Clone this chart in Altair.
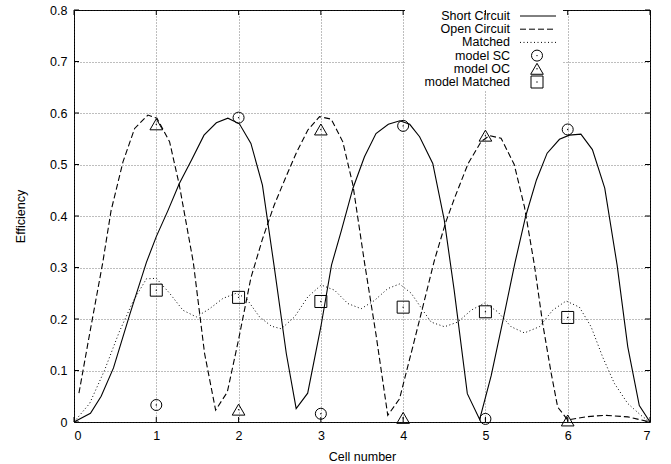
import altair as alt
import pandas as pd

# ---------------- data ----------------
SC = [(0, 0), (0.20, 0.017), (0.33, 0.050), (0.48, 0.105), (0.68, 0.21), (0.88, 0.31),
      (1.0, 0.36), (1.14, 0.41), (1.28, 0.463), (1.43, 0.509), (1.58, 0.557), (1.73, 0.581),
      (1.87, 0.590), (2.01, 0.579), (2.15, 0.541), (2.29, 0.460), (2.43, 0.305), (2.58, 0.133),
      (2.70, 0.026), (2.84, 0.056), (3.0, 0.185), (3.13, 0.305), (3.25, 0.372), (3.39, 0.454),
      (3.53, 0.515), (3.67, 0.560), (3.82, 0.578), (3.96, 0.585), (4.08, 0.578), (4.2, 0.554),
      (4.36, 0.502), (4.50, 0.392), (4.62, 0.256), (4.78, 0.055), (4.93, 0.005), (5.07, 0.09),
      (5.23, 0.21), (5.36, 0.31), (5.49, 0.40), (5.62, 0.47), (5.75, 0.522), (5.90, 0.549),
      (6.02, 0.557), (6.16, 0.559), (6.30, 0.529), (6.45, 0.454), (6.60, 0.305), (6.73, 0.146),
      (6.87, 0.032), (7.0, 0.0)]

OC = [(0.06, 0.056), (0.20, 0.18), (0.35, 0.31), (0.45, 0.41), (0.595, 0.505), (0.737, 0.570),
      (0.899, 0.596), (1.008, 0.590), (1.162, 0.544), (1.28, 0.46), (1.45, 0.31), (1.587, 0.133),
      (1.721, 0.023), (1.863, 0.058), (2.0, 0.16), (2.15, 0.28), (2.29, 0.355), (2.43, 0.42),
      (2.56, 0.47), (2.70, 0.522), (2.842, 0.567), (2.984, 0.593), (3.126, 0.588), (3.267, 0.544),
      (3.39, 0.46), (3.53, 0.31), (3.67, 0.17), (3.813, 0.013), (3.956, 0.045), (4.117, 0.146),
      (4.26, 0.237), (4.38, 0.314), (4.52, 0.389), (4.63, 0.437), (4.79, 0.502), (4.95, 0.545),
      (5.05, 0.556), (5.19, 0.551), (5.35, 0.50), (5.474, 0.418), (5.595, 0.305), (5.696, 0.191),
      (5.80, 0.094), (5.878, 0.029), (6.0, 0.004), (6.22, 0.01), (6.445, 0.013), (6.73, 0.01),
      (7.0, 0.0)]

MT = [(0.0, 0.0), (0.19, 0.036), (0.37, 0.10), (0.55, 0.175), (0.72, 0.235), (0.88, 0.278),
      (1.0, 0.279), (1.162, 0.25), (1.324, 0.217), (1.486, 0.204), (1.648, 0.220), (1.81, 0.24),
      (1.972, 0.250), (2.094, 0.24), (2.255, 0.204), (2.40, 0.186), (2.519, 0.181), (2.68, 0.204),
      (2.842, 0.243), (3.004, 0.266), (3.166, 0.256), (3.328, 0.230), (3.49, 0.220), (3.652, 0.236),
      (3.813, 0.259), (3.956, 0.268), (4.098, 0.250), (4.239, 0.217), (4.34, 0.194), (4.502, 0.185),
      (4.664, 0.194), (4.826, 0.217), (4.988, 0.231), (5.15, 0.214), (5.312, 0.185), (5.474, 0.173),
      (5.656, 0.185), (5.817, 0.217), (5.98, 0.235), (6.142, 0.223), (6.284, 0.185), (6.425, 0.126),
      (6.567, 0.075), (6.729, 0.036), (6.89, 0.013), (7.0, 0.0)]

CELLS = [1, 2, 3, 4, 5, 6]
MODEL_SC = [0.033, 0.591, 0.016, 0.575, 0.006, 0.568]
MODEL_OC = [0.578, 0.024, 0.568, 0.008, 0.556, 0.003]
MODEL_MT = [0.256, 0.242, 0.234, 0.223, 0.214, 0.203]

X_TICKS = [0, 1, 2, 3, 4, 5, 6, 7]
Y_TICKS = [0, 0.1, 0.2, 0.3, 0.4, 0.5, 0.6, 0.7, 0.8]

LEGEND_LABELS = ["Short Circuit", "Open Circuit", "Matched", "model SC", "model OC", "model Matched"]

# ---------------- layout / style ----------------
W, H = 576, 412
FONT = "Liberation Sans"
FS = 12.5
DASH = [6, 3]
DOT = [1, 2.5]

xs = alt.Scale(domain=[0, 7], nice=False)
ys = alt.Scale(domain=[0, 0.8], nice=False)

xax = alt.Axis(values=X_TICKS, format="d", title="Cell number", grid=True, ticks=False,
               domain=False, labelPadding=7, titlePadding=9)
yax = alt.Axis(values=Y_TICKS, format=".1~f", title="Efficiency", grid=True, ticks=False,
               domain=False, labelPadding=7, titlePadding=22)


def df_of(pairs):
    return pd.DataFrame(pairs, columns=["x", "y"])


dummy = pd.DataFrame({"a": [0]})

# white legend background (covers the grid)
legend_box = alt.Chart(dummy).mark_rect(fill="white", stroke=None).encode(
    x=alt.value(331), x2=alt.value(489), y=alt.value(0), y2=alt.value(80))

line_sc = alt.Chart(df_of(SC)).mark_line(color="black", strokeWidth=1.1).encode(
    x=alt.X("x:Q", scale=xs, axis=xax), y=alt.Y("y:Q", scale=ys, axis=yax))
line_oc = alt.Chart(df_of(OC)).mark_line(color="black", strokeWidth=1.1, strokeDash=DASH).encode(
    x=alt.X("x:Q", scale=xs), y=alt.Y("y:Q", scale=ys))
line_mt = alt.Chart(df_of(MT)).mark_line(color="black", strokeWidth=1, strokeDash=DOT).encode(
    x=alt.X("x:Q", scale=xs), y=alt.Y("y:Q", scale=ys))

pts = pd.DataFrame({"x": CELLS, "sc": MODEL_SC, "oc": MODEL_OC, "mt": MODEL_MT})


def marker(col, shape, size):
    base = alt.Chart(pts)
    sym = base.mark_point(shape=shape, size=size, filled=False, color="black",
                          strokeWidth=1, opacity=1).encode(
        x=alt.X("x:Q", scale=xs), y=alt.Y(f"{col}:Q", scale=ys))
    dot = base.mark_point(shape="circle", size=2, filled=True, color="black", opacity=1).encode(
        x=alt.X("x:Q", scale=xs), y=alt.Y(f"{col}:Q", scale=ys))
    return sym + dot


m_sc = marker("sc", "circle", 121)
m_oc = marker("oc", "triangle-up", 160)
m_mt = marker("mt", "square", 144)

# inward tick marks on all four sides
xt = pd.DataFrame({"v": X_TICKS})
yt = pd.DataFrame({"v": Y_TICKS})
tick_style = dict(color="black", strokeWidth=1)
ticks = alt.layer(
    alt.Chart(xt).mark_rule(**tick_style).encode(x=alt.X("v:Q", scale=xs), y=alt.value(H), y2=alt.value(H - 5)),
    alt.Chart(xt).mark_rule(**tick_style).encode(x=alt.X("v:Q", scale=xs), y=alt.value(0), y2=alt.value(5)),
    alt.Chart(yt).mark_rule(**tick_style).encode(y=alt.Y("v:Q", scale=ys), x=alt.value(0), x2=alt.value(5)),
    alt.Chart(yt).mark_rule(**tick_style).encode(y=alt.Y("v:Q", scale=ys), x=alt.value(W - 5), x2=alt.value(W)),
)

# manual gnuplot-style key: label right-aligned, sample to the right
ROW0, DY = 6, 13.2
TX, S0, S1, SX = 436, 446, 482, 463
leg_layers = []
dashes = [None, DASH, DOT]
shapes = [("circle", 121), ("triangle-up", 160), ("square", 144)]
for i, lab in enumerate(LEGEND_LABELS):
    yy = ROW0 + i * DY
    leg_layers.append(alt.Chart(pd.DataFrame({"t": [lab]})).mark_text(
        align="right", baseline="middle", font=FONT, fontSize=FS, color="black").encode(
        text="t:N", x=alt.value(TX), y=alt.value(yy)))
    if i < 3:
        kw = dict(color="black", strokeWidth=1)
        if dashes[i] is not None:
            kw["strokeDash"] = dashes[i]
        leg_layers.append(alt.Chart(dummy).mark_rule(**kw).encode(
            x=alt.value(S0), x2=alt.value(S1), y=alt.value(yy)))
    else:
        shp, sz = shapes[i - 3]
        leg_layers.append(alt.Chart(dummy).mark_point(shape=shp, size=sz, filled=False, color="black",
                                                     strokeWidth=1, opacity=1).encode(
            x=alt.value(SX), y=alt.value(yy)))
        leg_layers.append(alt.Chart(dummy).mark_point(shape="circle", size=2, filled=True,
                                                     color="black", opacity=1).encode(
            x=alt.value(SX), y=alt.value(yy)))

chart = alt.layer(
    legend_box, line_sc, line_oc, line_mt, m_sc, m_oc, m_mt, ticks, *leg_layers
).properties(
    width=W, height=H,
    autosize=alt.AutoSizeParams(type="none"),
    padding={"left": 74, "top": 10, "right": 671 - 74 - W, "bottom": 464 - 10 - H},
    background="white",
).configure_view(
    stroke="black", strokeWidth=1
).configure_axis(
    labelFont=FONT, labelFontSize=FS, labelColor="black",
    titleFont=FONT, titleFontSize=FS, titleColor="black", titleFontWeight="normal",
    gridColor="#333333", gridDash=[1, 2], gridWidth=0.8, gridOpacity=0.8,
)

chart.save("out.html", embed_options={"renderer": "svg", "actions": False})
